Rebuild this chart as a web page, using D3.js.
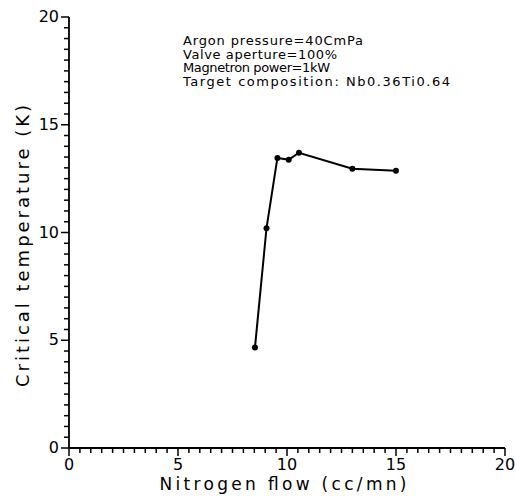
<!DOCTYPE html>
<html>
<head>
<meta charset="utf-8">
<script src="https://cdn.jsdelivr.net/npm/d3@7"></script>
<style>
  body { margin: 0; background: #fff; }
  text { font-family: "DejaVu Sans", sans-serif; fill: #000; }
</style>
</head>
<body>
<div id="chart"></div>
<script>
// nitrogen flow (cc/mn) vs critical temperature (K)
const flow = [8.53, 9.06, 9.56, 10.08, 10.55, 13.0, 15.0];
const tc = [4.66, 10.2, 13.46, 13.38, 13.7, 12.96, 12.87];
const xTicks = [0, 5, 10, 15, 20];
const yTicks = [0, 5, 10, 15, 20];
const notes = [
  'Argon pressure=40CmPa',
  'Valve aperture=100%',
  'Magnetron power=1kW',
  'Target composition: Nb0.36Ti0.64'
];

const width = 516, height = 500;
const svg = d3.select('#chart').append('svg')
  .attr('width', width)
  .attr('height', height);

const x = d3.scaleLinear().domain([0, 20]).range([69, 505]);
const y = d3.scaleLinear().domain([0, 20]).range([448, 17]);

// axis lines
svg.append('line')
  .attr('x1', x(0)).attr('x2', x(20))
  .attr('y1', y(0)).attr('y2', y(0))
  .attr('stroke', '#000').attr('stroke-width', 1.8);
svg.append('line')
  .attr('x1', x(0)).attr('x2', x(0))
  .attr('y1', y(0)).attr('y2', y(20))
  .attr('stroke', '#000').attr('stroke-width', 1.8);

// minor ticks every 0.5, longer ones at the labelled values
const minor = d3.range(0, 41).map((i) => i / 2);
const tickLen = (d) => (d % 5 === 0 ? 8 : 5);

svg.selectAll('line.xt').data(minor).join('line')
  .attr('class', 'xt')
  .attr('x1', (d) => x(d)).attr('x2', (d) => x(d))
  .attr('y1', y(0))
  .attr('y2', (d) => y(0) + tickLen(d))
  .attr('stroke', '#000').attr('stroke-width', 1.5);

svg.selectAll('line.yt').data(minor).join('line')
  .attr('class', 'yt')
  .attr('y1', (d) => y(d)).attr('y2', (d) => y(d))
  .attr('x1', x(0))
  .attr('x2', (d) => x(0) - tickLen(d))
  .attr('stroke', '#000').attr('stroke-width', 1.5);

svg.selectAll('text.xl').data(xTicks).join('text')
  .attr('class', 'xl')
  .attr('x', (d) => x(d))
  .attr('y', y(0) + 22)
  .attr('text-anchor', 'middle')
  .attr('font-size', 16)
  .text((d) => d);

svg.selectAll('text.yl').data(yTicks).join('text')
  .attr('class', 'yl')
  .attr('x', x(0) - 10)
  .attr('y', (d) => y(d) + 5)
  .attr('text-anchor', 'end')
  .attr('font-size', 16)
  .text((d) => d);

// axis titles
svg.append('text')
  .attr('x', 283).attr('y', 490)
  .attr('text-anchor', 'middle')
  .attr('font-size', 17)
  .attr('textLength', 247)
  .text('Nitrogen flow (cc/mn)');

svg.append('text')
  .attr('transform', 'translate(29,246) rotate(-90)')
  .attr('text-anchor', 'middle')
  .attr('font-size', 18)
  .attr('textLength', 282)
  .text('Critical temperature (K)');

// run conditions
const noteWidths = [180, 154, 147, 267];
svg.selectAll('text.note').data(notes).join('text')
  .attr('class', 'note')
  .attr('x', 183)
  .attr('y', (d, i) => 45 + i * 13.5)
  .attr('font-size', 13)
  .attr('textLength', (d, i) => noteWidths[i])
  .text((d) => d);

// data
const pts = flow.map((f, i) => [f, tc[i]]);
svg.append('path')
  .datum(pts)
  .attr('d', d3.line().x((d) => x(d[0])).y((d) => y(d[1])))
  .attr('fill', 'none')
  .attr('stroke', '#000')
  .attr('stroke-width', 2);

svg.selectAll('circle.pt').data(pts).join('circle')
  .attr('class', 'pt')
  .attr('cx', (d) => x(d[0]))
  .attr('cy', (d) => y(d[1]))
  .attr('r', 3)
  .attr('fill', '#000');
</script>
</body>
</html>
